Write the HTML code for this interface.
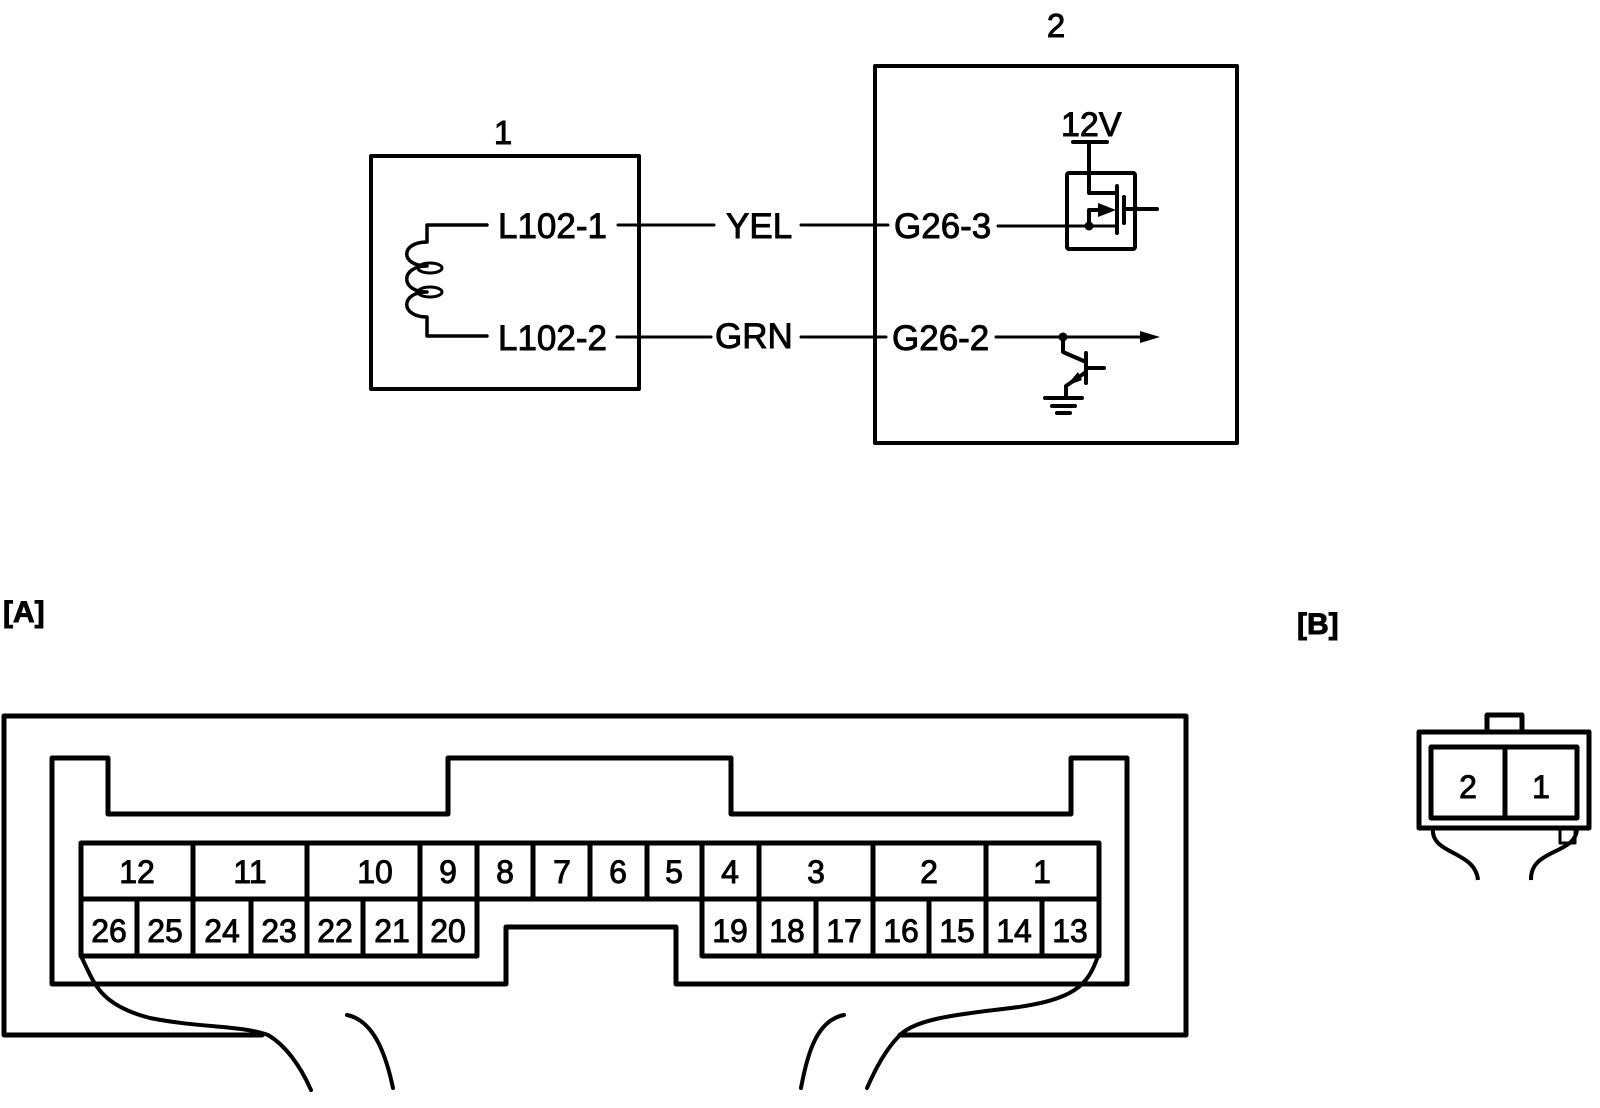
<!DOCTYPE html>
<html><head><meta charset="utf-8"><style>
html,body{margin:0;padding:0;background:#fff;}
svg{display:block;}
text{font-family:"Liberation Sans",sans-serif;fill:#000;stroke:#000;stroke-width:0.9px;}
</style></head><body>
<svg width="1600" height="1108" viewBox="0 0 1600 1108" xmlns="http://www.w3.org/2000/svg">
<g fill="none" stroke="#000" stroke-width="4" stroke-linejoin="round" stroke-linecap="round">
<rect x="371" y="156" width="268" height="233"/>
<path d="M487 225 H427 V242 C400 242 400 266 427 266 C400 266 400 292 427 292 C400 292 400 317 427 317 V336 H487" stroke-width="3.5"/>
<ellipse cx="430" cy="268" rx="12" ry="5" stroke-width="3"/>
<ellipse cx="430" cy="292" rx="12" ry="5" stroke-width="3"/>
<rect x="875" y="66" width="362" height="377"/>
<line x1="618" y1="225" x2="714" y2="225" stroke-width="3"/>
<line x1="801" y1="225" x2="888" y2="225" stroke-width="3"/>
<line x1="998" y1="226" x2="1117" y2="226" stroke-width="3"/>
<line x1="617" y1="337" x2="711" y2="337" stroke-width="3"/>
<line x1="801" y1="337" x2="886" y2="337" stroke-width="3"/>
<line x1="996" y1="337" x2="1145" y2="337" stroke-width="3"/>
<line x1="1073" y1="142" x2="1107" y2="142"/>
<path d="M1089 142 V193 H1117"/>
<rect x="1067" y="173" width="68" height="76" rx="2"/>
<line x1="1117" y1="186" x2="1117" y2="233"/>
<line x1="1124" y1="197" x2="1124" y2="223"/>
<line x1="1124" y1="209" x2="1157" y2="209"/>
<path d="M1089 226 V210 H1100"/>
<path d="M1063 337 V352 L1086 362"/>
<line x1="1086" y1="353" x2="1086" y2="383"/>
<line x1="1086" y1="368" x2="1104" y2="368"/>
<path d="M1086 372 L1066 386 V398"/>
<line x1="1045" y1="398" x2="1082" y2="398"/>
<line x1="1052" y1="406" x2="1075" y2="406"/>
<line x1="1057" y1="413" x2="1070" y2="413"/>
</g>
<g fill="#000">
<circle cx="1089" cy="226" r="4.5"/>
<circle cx="1063" cy="337" r="4.5"/>
<polygon points="1116,210 1098,203 1098,217"/>
<polygon points="1160,337 1140,331 1140,343"/>
<polygon points="1066,386 1078,372 1082,380"/>
</g>
<g font-size="35">
<text x="503" y="144" text-anchor="middle" font-size="33">1</text>
<text x="1056" y="37" text-anchor="middle" font-size="33">2</text>
<text x="498" y="238">L102-1</text>
<text x="498" y="350">L102-2</text>
<text x="726" y="238">YEL</text>
<text x="715" y="348">GRN</text>
<text x="894" y="238">G26-3</text>
<text x="892" y="350">G26-2</text>
<text x="1061" y="136" font-size="34">12V</text>
</g>
<text x="3" y="622" font-size="30" font-weight="bold">[A]</text>
<text x="1297" y="634" font-size="30" font-weight="bold">[B]</text>
<g fill="none" stroke="#000" stroke-width="5" stroke-linejoin="round" stroke-linecap="round">
<path d="M262 1035 H4 V716 H1186 V1035 H900"/>
<path d="M52 758 H108 V814 H448 V758 H731 V814 H1071 V758 H1127 V984 H676 V927 H506 V984 H52 Z"/>
<path d="M81 843 H1099 V956 H702 V899 M81 843 V956 H477 V899 M81 899 H1099"/>
<path d="M193 843 V956 M307 843 V956 M420 843 V956 M477 843 V899 M533 843 V899 M590 843 V899 M647 843 V899 M702 843 V899 M759 843 V956 M873 843 V956 M986 843 V956"/>
<path d="M137 899 V956 M251 899 V956 M363 899 V956 M816 899 V956 M929 899 V956 M1042 899 V956"/>
<path d="M81 956 C95 985 100 1005 150 1018 C200 1028 240 1025 268 1035 C285 1045 300 1065 311 1090" stroke-width="4"/>
<path d="M347 1015 C372 1020 385 1050 393 1088" stroke-width="4"/>
<path d="M1098 956 C1088 985 1075 1000 1011 1008 C950 1015 915 1020 900 1035 C885 1050 875 1070 867 1088" stroke-width="4"/>
<path d="M844 1015 C818 1020 808 1050 801 1088" stroke-width="4"/>
</g>
<g font-size="32" text-anchor="middle">
<text x="137" y="883">12</text>
<text x="250" y="883">11</text>
<text x="375" y="883">10</text>
<text x="448" y="883">9</text>
<text x="505" y="883">8</text>
<text x="562" y="883">7</text>
<text x="618" y="883">6</text>
<text x="674" y="883">5</text>
<text x="730" y="883">4</text>
<text x="816" y="883">3</text>
<text x="929" y="883">2</text>
<text x="1042" y="883">1</text>
<text x="109" y="942">26</text>
<text x="165" y="942">25</text>
<text x="222" y="942">24</text>
<text x="279" y="942">23</text>
<text x="335" y="942">22</text>
<text x="392" y="942">21</text>
<text x="448" y="942">20</text>
<text x="730" y="942">19</text>
<text x="787" y="942">18</text>
<text x="844" y="942">17</text>
<text x="901" y="942">16</text>
<text x="957" y="942">15</text>
<text x="1014" y="942">14</text>
<text x="1070" y="942">13</text>
</g>
<g fill="none" stroke="#000" stroke-width="5" stroke-linejoin="round">
<rect x="1487" y="715" width="35" height="17"/>
<rect x="1419" y="732" width="170" height="96"/>
<rect x="1431" y="747" width="146" height="71"/>
<line x1="1505" y1="747" x2="1505" y2="818"/>
<path d="M1433 828 C1430 855 1475 850 1478 880" stroke-width="4"/>
<path d="M1577 828 C1577 855 1530 848 1531 880" stroke-width="4"/>
<rect x="1560" y="828" width="15" height="15" stroke-width="3"/>
</g>
<text x="1468" y="798" font-size="32" text-anchor="middle">2</text>
<text x="1541" y="798" font-size="32" text-anchor="middle">1</text>
</svg>
</body></html>
